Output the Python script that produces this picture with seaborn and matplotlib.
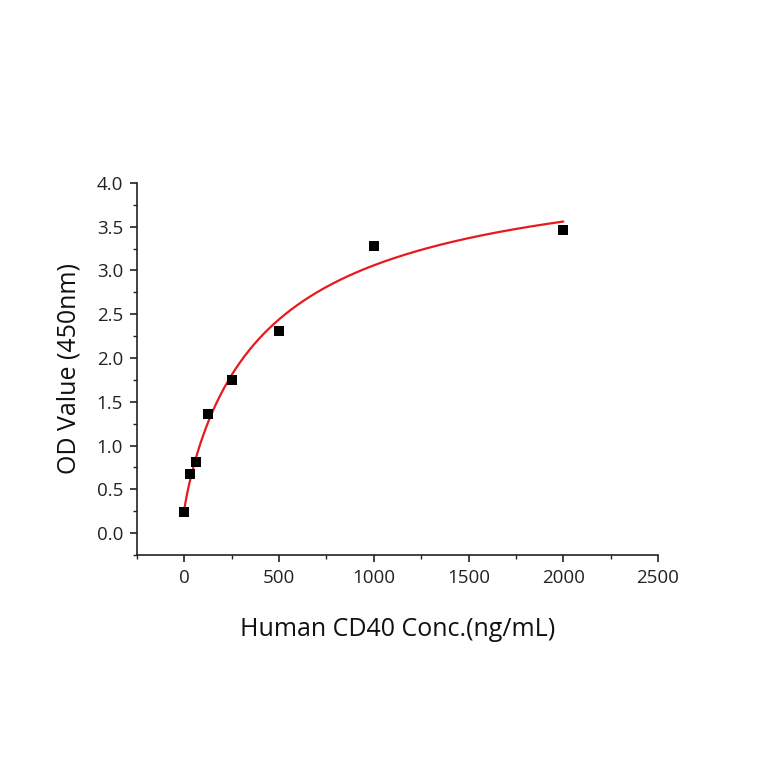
import numpy as np
import pandas as pd
import matplotlib
matplotlib.use("Agg")
import matplotlib.pyplot as plt
import seaborn as sns
from matplotlib.ticker import MultipleLocator

# Data
conc = [0, 31.25, 62.5, 125, 250, 500, 1000, 2000]
od = [0.24, 0.67, 0.81, 1.36, 1.75, 2.31, 3.28, 3.46]
x_label = "Human CD40 Conc.(ng/mL)"
y_label = "OD Value (450nm)"

df = pd.DataFrame({"conc": conc, "od": od})

# 4-parameter logistic fit to the data (grid over shape params, linear LS for asymptotes)
xa = np.array(conc, dtype=float)
ya = np.array(od, dtype=float)
best = None
for b in np.linspace(0.4, 2.0, 81):
    for c in np.linspace(50, 3000, 296):
        g = 1.0 / (1.0 + (xa / c) ** b)
        A = np.column_stack([g, 1 - g])
        coef, *_ = np.linalg.lstsq(A, ya, rcond=None)
        r = np.sum((A @ coef - ya) ** 2)
        if best is None or r < best[0]:
            best = (r, b, c, coef)
_, bb, cc, (aa, dd) = best
xf = np.linspace(0, 2000, 400)
yf = dd + (aa - dd) / (1.0 + (xf / cc) ** bb)
fit = pd.DataFrame({"conc": xf, "od": yf})

sns.set_theme(style="ticks")
plt.rcParams["font.family"] = ["Open Sans", "DejaVu Sans"]

fig = plt.figure(figsize=(7.64, 7.64), dpi=100)
ax = fig.add_axes([0.1793, 0.2736, 0.682, 0.487])

sns.lineplot(data=fit, x="conc", y="od", ax=ax, color="#e8191c", linewidth=1.6, zorder=2)
sns.scatterplot(data=df, x="conc", y="od", ax=ax, marker="s", s=55, color="black",
                edgecolor="black", linewidth=0, zorder=3)

ax.set_xlim(-250, 2500)
ax.set_ylim(-0.25, 4.0)
ax.xaxis.set_major_locator(MultipleLocator(500))
ax.xaxis.set_minor_locator(MultipleLocator(250))
ax.yaxis.set_major_locator(MultipleLocator(0.5))
ax.yaxis.set_minor_locator(MultipleLocator(0.25))
ax.yaxis.set_major_formatter(matplotlib.ticker.FormatStrFormatter("%.1f"))

for s in ["top", "right"]:
    ax.spines[s].set_visible(False)
for s in ["left", "bottom"]:
    ax.spines[s].set_color("#222222")
    ax.spines[s].set_linewidth(1.2)

ax.tick_params(which="major", direction="out", length=5, width=1.2, color="#222222",
               labelsize=13.5, labelcolor="#222222", pad=5)
ax.tick_params(which="minor", direction="out", length=3, width=1.0, color="#222222")

ax.set_xlabel(x_label, fontsize=18, color="#111111", labelpad=22)
ax.set_ylabel(y_label, fontsize=18, color="#111111", labelpad=11)

fig.savefig("out.png", dpi=100, facecolor="white")
